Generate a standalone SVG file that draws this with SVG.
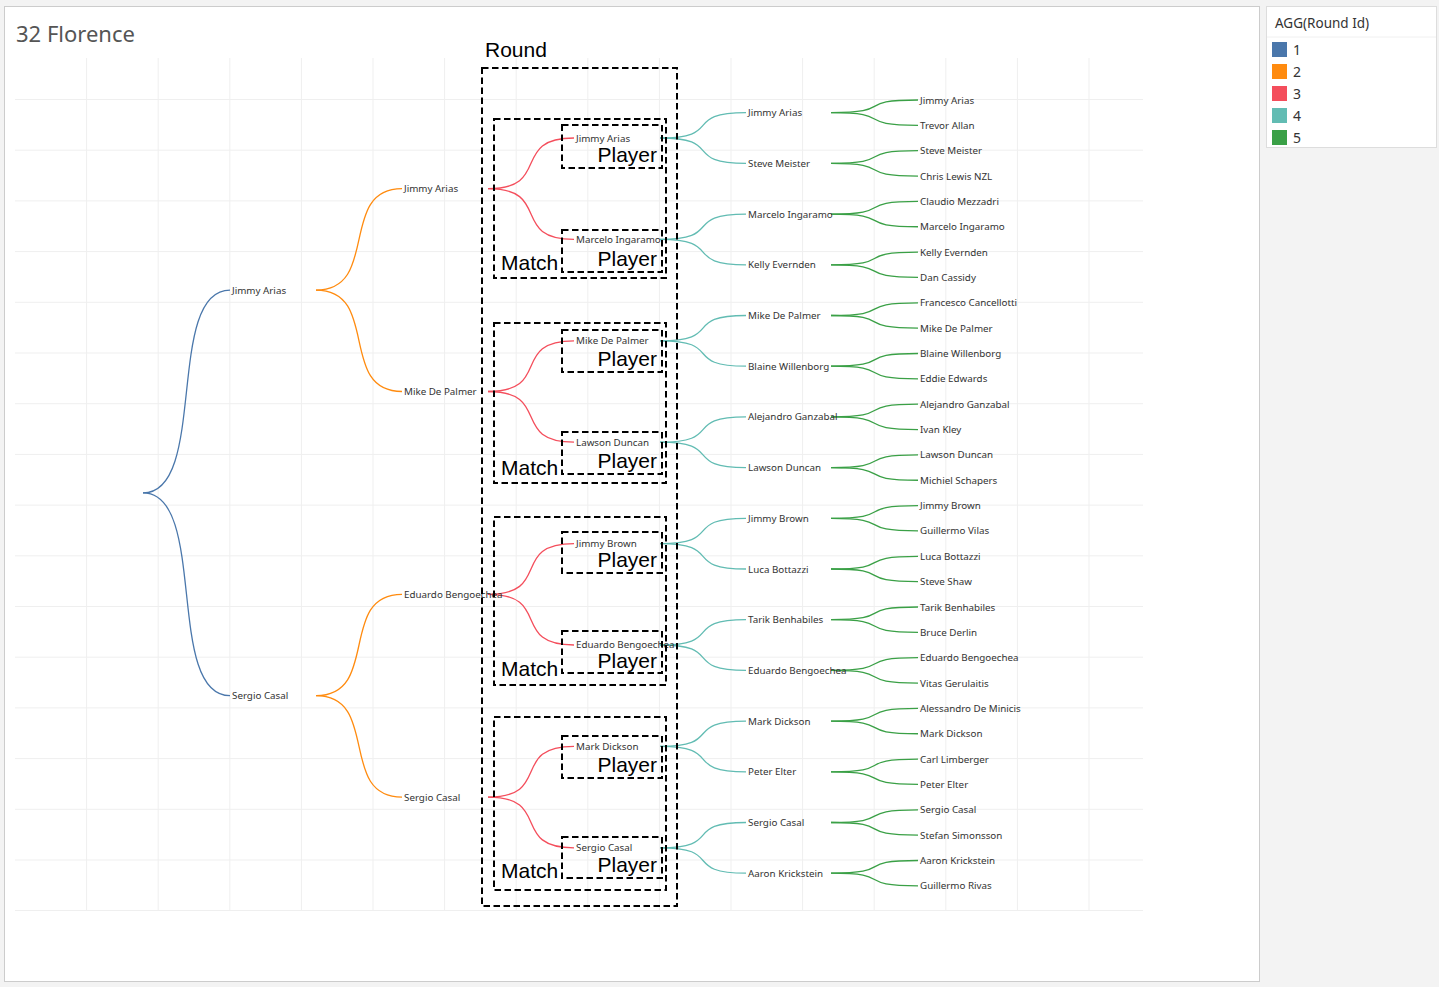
<svg xmlns="http://www.w3.org/2000/svg" width="1439" height="987" viewBox="0 0 1439 987">
<style>
.bg{fill:#f3f3f3}
.panel{fill:#ffffff;stroke:#cccccc;stroke-width:1}
.grid line{stroke:#efefef;stroke-width:1}
.lbl{font-family:"Noto Sans","Liberation Sans",sans-serif;font-size:9.8px;fill:#333333}
.title{font-family:"Noto Sans","Liberation Sans",sans-serif;font-size:22px;fill:#555555}
.big{font-family:"Liberation Sans",Arial,sans-serif;font-size:21px;fill:#000000}
.box{fill:none;stroke:#000000;stroke-width:2;stroke-dasharray:6.5,3.5}
.c1{fill:none;stroke:#4a77ab;stroke-width:1.3}
.c2{fill:none;stroke:#ff8b0f;stroke-width:1.3}
.c3{fill:none;stroke:#f44e5c;stroke-width:1.3}
.c4{fill:none;stroke:#62bcb3;stroke-width:1.3}
.c5{fill:none;stroke:#3aa046;stroke-width:1.3}
.lgh{font-family:"Noto Sans","Liberation Sans",sans-serif;font-size:13.5px;fill:#333333}
.lgn{font-family:"Noto Sans","Liberation Sans",sans-serif;font-size:14px;fill:#333333}
</style>
<rect class="bg" x="0" y="0" width="1439" height="987"/>
<rect class="panel" x="4.5" y="6.5" width="1255" height="975"/>
<text class="title" x="16" y="42">32 Florence</text>
<g class="grid">
<line x1="86.6" y1="58" x2="86.6" y2="910.5"/>
<line x1="158.2" y1="58" x2="158.2" y2="910.5"/>
<line x1="229.8" y1="58" x2="229.8" y2="910.5"/>
<line x1="301.4" y1="58" x2="301.4" y2="910.5"/>
<line x1="373" y1="58" x2="373" y2="910.5"/>
<line x1="444.6" y1="58" x2="444.6" y2="910.5"/>
<line x1="516.2" y1="58" x2="516.2" y2="910.5"/>
<line x1="587.8" y1="58" x2="587.8" y2="910.5"/>
<line x1="659.4" y1="58" x2="659.4" y2="910.5"/>
<line x1="731" y1="58" x2="731" y2="910.5"/>
<line x1="802.6" y1="58" x2="802.6" y2="910.5"/>
<line x1="874.2" y1="58" x2="874.2" y2="910.5"/>
<line x1="945.8" y1="58" x2="945.8" y2="910.5"/>
<line x1="1017.4" y1="58" x2="1017.4" y2="910.5"/>
<line x1="1089" y1="58" x2="1089" y2="910.5"/>
<line x1="15" y1="99.5" x2="1143" y2="99.5"/>
<line x1="15" y1="150.2" x2="1143" y2="150.2"/>
<line x1="15" y1="200.9" x2="1143" y2="200.9"/>
<line x1="15" y1="251.6" x2="1143" y2="251.6"/>
<line x1="15" y1="302.3" x2="1143" y2="302.3"/>
<line x1="15" y1="353" x2="1143" y2="353"/>
<line x1="15" y1="403.7" x2="1143" y2="403.7"/>
<line x1="15" y1="454.4" x2="1143" y2="454.4"/>
<line x1="15" y1="505.1" x2="1143" y2="505.1"/>
<line x1="15" y1="555.8" x2="1143" y2="555.8"/>
<line x1="15" y1="606.5" x2="1143" y2="606.5"/>
<line x1="15" y1="657.2" x2="1143" y2="657.2"/>
<line x1="15" y1="707.9" x2="1143" y2="707.9"/>
<line x1="15" y1="758.6" x2="1143" y2="758.6"/>
<line x1="15" y1="809.3" x2="1143" y2="809.3"/>
<line x1="15" y1="860" x2="1143" y2="860"/>
<line x1="15" y1="910.5" x2="1143" y2="910.5"/>
</g>
<g id="connectors">
<path class="c1" d="M143,492.9 C208.25,492.9 164.75,290.1 230,290.1"/>
<path class="c1" d="M143,492.9 C208.25,492.9 164.75,695.7 230,695.7"/>
<path class="c2" d="M316,290.1 C380.5,290.1 337.5,188.7 402,188.7"/>
<path class="c2" d="M316,290.1 C380.5,290.1 337.5,391.5 402,391.5"/>
<path class="c2" d="M316,695.7 C380.5,695.7 337.5,594.3 402,594.3"/>
<path class="c2" d="M316,695.7 C380.5,695.7 337.5,797.1 402,797.1"/>
<path class="c3" d="M488,188.7 C552.5,188.7 509.5,138 574,138"/>
<path class="c3" d="M488,188.7 C552.5,188.7 509.5,239.4 574,239.4"/>
<path class="c3" d="M488,391.5 C552.5,391.5 509.5,340.8 574,340.8"/>
<path class="c3" d="M488,391.5 C552.5,391.5 509.5,442.2 574,442.2"/>
<path class="c3" d="M488,594.3 C552.5,594.3 509.5,543.6 574,543.6"/>
<path class="c3" d="M488,594.3 C552.5,594.3 509.5,645 574,645"/>
<path class="c3" d="M488,797.1 C552.5,797.1 509.5,746.4 574,746.4"/>
<path class="c3" d="M488,797.1 C552.5,797.1 509.5,847.8 574,847.8"/>
<path class="c4" d="M660,138 C724.5,138 681.5,112.7 746,112.7"/>
<path class="c4" d="M660,138 C724.5,138 681.5,163.4 746,163.4"/>
<path class="c4" d="M660,239.4 C724.5,239.4 681.5,214.1 746,214.1"/>
<path class="c4" d="M660,239.4 C724.5,239.4 681.5,264.8 746,264.8"/>
<path class="c4" d="M660,340.8 C724.5,340.8 681.5,315.5 746,315.5"/>
<path class="c4" d="M660,340.8 C724.5,340.8 681.5,366.2 746,366.2"/>
<path class="c4" d="M660,442.2 C724.5,442.2 681.5,416.9 746,416.9"/>
<path class="c4" d="M660,442.2 C724.5,442.2 681.5,467.6 746,467.6"/>
<path class="c4" d="M660,543.6 C724.5,543.6 681.5,518.3 746,518.3"/>
<path class="c4" d="M660,543.6 C724.5,543.6 681.5,569 746,569"/>
<path class="c4" d="M660,645 C724.5,645 681.5,619.7 746,619.7"/>
<path class="c4" d="M660,645 C724.5,645 681.5,670.4 746,670.4"/>
<path class="c4" d="M660,746.4 C724.5,746.4 681.5,721.1 746,721.1"/>
<path class="c4" d="M660,746.4 C724.5,746.4 681.5,771.8 746,771.8"/>
<path class="c4" d="M660,847.8 C724.5,847.8 681.5,822.5 746,822.5"/>
<path class="c4" d="M660,847.8 C724.5,847.8 681.5,873.2 746,873.2"/>
<path class="c5" d="M831,112.7 C896.25,112.7 852.75,100 918,100"/>
<path class="c5" d="M831,112.7 C896.25,112.7 852.75,125.35 918,125.35"/>
<path class="c5" d="M831,163.4 C896.25,163.4 852.75,150.7 918,150.7"/>
<path class="c5" d="M831,163.4 C896.25,163.4 852.75,176.05 918,176.05"/>
<path class="c5" d="M831,214.1 C896.25,214.1 852.75,201.4 918,201.4"/>
<path class="c5" d="M831,214.1 C896.25,214.1 852.75,226.75 918,226.75"/>
<path class="c5" d="M831,264.8 C896.25,264.8 852.75,252.1 918,252.1"/>
<path class="c5" d="M831,264.8 C896.25,264.8 852.75,277.45 918,277.45"/>
<path class="c5" d="M831,315.5 C896.25,315.5 852.75,302.8 918,302.8"/>
<path class="c5" d="M831,315.5 C896.25,315.5 852.75,328.15 918,328.15"/>
<path class="c5" d="M831,366.2 C896.25,366.2 852.75,353.5 918,353.5"/>
<path class="c5" d="M831,366.2 C896.25,366.2 852.75,378.85 918,378.85"/>
<path class="c5" d="M831,416.9 C896.25,416.9 852.75,404.2 918,404.2"/>
<path class="c5" d="M831,416.9 C896.25,416.9 852.75,429.55 918,429.55"/>
<path class="c5" d="M831,467.6 C896.25,467.6 852.75,454.9 918,454.9"/>
<path class="c5" d="M831,467.6 C896.25,467.6 852.75,480.25 918,480.25"/>
<path class="c5" d="M831,518.3 C896.25,518.3 852.75,505.6 918,505.6"/>
<path class="c5" d="M831,518.3 C896.25,518.3 852.75,530.95 918,530.95"/>
<path class="c5" d="M831,569 C896.25,569 852.75,556.3 918,556.3"/>
<path class="c5" d="M831,569 C896.25,569 852.75,581.65 918,581.65"/>
<path class="c5" d="M831,619.7 C896.25,619.7 852.75,607 918,607"/>
<path class="c5" d="M831,619.7 C896.25,619.7 852.75,632.35 918,632.35"/>
<path class="c5" d="M831,670.4 C896.25,670.4 852.75,657.7 918,657.7"/>
<path class="c5" d="M831,670.4 C896.25,670.4 852.75,683.05 918,683.05"/>
<path class="c5" d="M831,721.1 C896.25,721.1 852.75,708.4 918,708.4"/>
<path class="c5" d="M831,721.1 C896.25,721.1 852.75,733.75 918,733.75"/>
<path class="c5" d="M831,771.8 C896.25,771.8 852.75,759.1 918,759.1"/>
<path class="c5" d="M831,771.8 C896.25,771.8 852.75,784.45 918,784.45"/>
<path class="c5" d="M831,822.5 C896.25,822.5 852.75,809.8 918,809.8"/>
<path class="c5" d="M831,822.5 C896.25,822.5 852.75,835.15 918,835.15"/>
<path class="c5" d="M831,873.2 C896.25,873.2 852.75,860.5 918,860.5"/>
<path class="c5" d="M831,873.2 C896.25,873.2 852.75,885.85 918,885.85"/>
</g>
<g id="r1">
<g id="r1-1"><text class="lbl" x="232" y="293.6">Jimmy Arias</text></g>
<g id="r1-2"><text class="lbl" x="232" y="699.2">Sergio Casal</text></g>
</g>
<g id="r2">
<g id="r2-1"><text class="lbl" x="404" y="192.2">Jimmy Arias</text></g>
<g id="r2-2"><text class="lbl" x="404" y="395">Mike De Palmer</text></g>
<g id="r2-3"><text class="lbl" x="404" y="597.8">Eduardo Bengoechea</text></g>
<g id="r2-4"><text class="lbl" x="404" y="800.6">Sergio Casal</text></g>
</g>
<g id="r3">
<g id="r3-1"><text class="lbl" x="576" y="141.5">Jimmy Arias</text></g>
<g id="r3-2"><text class="lbl" x="576" y="242.9">Marcelo Ingaramo</text></g>
<g id="r3-3"><text class="lbl" x="576" y="344.3">Mike De Palmer</text></g>
<g id="r3-4"><text class="lbl" x="576" y="445.7">Lawson Duncan</text></g>
<g id="r3-5"><text class="lbl" x="576" y="547.1">Jimmy Brown</text></g>
<g id="r3-6"><text class="lbl" x="576" y="648.3">Eduardo Bengoechea</text></g>
<g id="r3-7"><text class="lbl" x="576" y="749.9">Mark Dickson</text></g>
<g id="r3-8"><text class="lbl" x="576" y="851.3">Sergio Casal</text></g>
</g>
<g id="r4">
<g id="r4-1"><text class="lbl" x="748" y="116.2">Jimmy Arias</text></g>
<g id="r4-2"><text class="lbl" x="748" y="166.9">Steve Meister</text></g>
<g id="r4-3"><text class="lbl" x="748" y="217.6">Marcelo Ingaramo</text></g>
<g id="r4-4"><text class="lbl" x="748" y="268.3">Kelly Evernden</text></g>
<g id="r4-5"><text class="lbl" x="748" y="319">Mike De Palmer</text></g>
<g id="r4-6"><text class="lbl" x="748" y="369.7">Blaine Willenborg</text></g>
<g id="r4-7"><text class="lbl" x="748" y="420.4">Alejandro Ganzabal</text></g>
<g id="r4-8"><text class="lbl" x="748" y="471.1">Lawson Duncan</text></g>
<g id="r4-9"><text class="lbl" x="748" y="521.8">Jimmy Brown</text></g>
<g id="r4-10"><text class="lbl" x="748" y="572.5">Luca Bottazzi</text></g>
<g id="r4-11"><text class="lbl" x="748" y="623.2">Tarik Benhabiles</text></g>
<g id="r4-12"><text class="lbl" x="748" y="673.9">Eduardo Bengoechea</text></g>
<g id="r4-13"><text class="lbl" x="748" y="724.6">Mark Dickson</text></g>
<g id="r4-14"><text class="lbl" x="748" y="775.3">Peter Elter</text></g>
<g id="r4-15"><text class="lbl" x="748" y="826">Sergio Casal</text></g>
<g id="r4-16"><text class="lbl" x="748" y="876.7">Aaron Krickstein</text></g>
</g>
<g id="r5">
<g id="r5-1"><text class="lbl" x="920" y="103.5">Jimmy Arias</text></g>
<g id="r5-2"><text class="lbl" x="920" y="128.85">Trevor Allan</text></g>
<g id="r5-3"><text class="lbl" x="920" y="154.2">Steve Meister</text></g>
<g id="r5-4"><text class="lbl" x="920" y="179.55">Chris Lewis NZL</text></g>
<g id="r5-5"><text class="lbl" x="920" y="204.9">Claudio Mezzadri</text></g>
<g id="r5-6"><text class="lbl" x="920" y="230.25">Marcelo Ingaramo</text></g>
<g id="r5-7"><text class="lbl" x="920" y="255.6">Kelly Evernden</text></g>
<g id="r5-8"><text class="lbl" x="920" y="280.95">Dan Cassidy</text></g>
<g id="r5-9"><text class="lbl" x="920" y="306.3">Francesco Cancellotti</text></g>
<g id="r5-10"><text class="lbl" x="920" y="331.65">Mike De Palmer</text></g>
<g id="r5-11"><text class="lbl" x="920" y="357">Blaine Willenborg</text></g>
<g id="r5-12"><text class="lbl" x="920" y="382.35">Eddie Edwards</text></g>
<g id="r5-13"><text class="lbl" x="920" y="407.7">Alejandro Ganzabal</text></g>
<g id="r5-14"><text class="lbl" x="920" y="433.05">Ivan Kley</text></g>
<g id="r5-15"><text class="lbl" x="920" y="458.4">Lawson Duncan</text></g>
<g id="r5-16"><text class="lbl" x="920" y="483.75">Michiel Schapers</text></g>
<g id="r5-17"><text class="lbl" x="920" y="509.1">Jimmy Brown</text></g>
<g id="r5-18"><text class="lbl" x="920" y="534.45">Guillermo Vilas</text></g>
<g id="r5-19"><text class="lbl" x="920" y="559.8">Luca Bottazzi</text></g>
<g id="r5-20"><text class="lbl" x="920" y="585.15">Steve Shaw</text></g>
<g id="r5-21"><text class="lbl" x="920" y="610.5">Tarik Benhabiles</text></g>
<g id="r5-22"><text class="lbl" x="920" y="635.85">Bruce Derlin</text></g>
<g id="r5-23"><text class="lbl" x="920" y="661.2">Eduardo Bengoechea</text></g>
<g id="r5-24"><text class="lbl" x="920" y="686.55">Vitas Gerulaitis</text></g>
<g id="r5-25"><text class="lbl" x="920" y="711.9">Alessandro De Minicis</text></g>
<g id="r5-26"><text class="lbl" x="920" y="737.25">Mark Dickson</text></g>
<g id="r5-27"><text class="lbl" x="920" y="762.6">Carl Limberger</text></g>
<g id="r5-28"><text class="lbl" x="920" y="787.95">Peter Elter</text></g>
<g id="r5-29"><text class="lbl" x="920" y="813.3">Sergio Casal</text></g>
<g id="r5-30"><text class="lbl" x="920" y="838.65">Stefan Simonsson</text></g>
<g id="r5-31"><text class="lbl" x="920" y="864">Aaron Krickstein</text></g>
<g id="r5-32"><text class="lbl" x="920" y="889.35">Guillermo Rivas</text></g>
</g>
<g id="round-box">
<rect class="box" x="482" y="68" width="195" height="838"/>
<text class="big" x="485" y="57">Round</text>
</g>
<g id="match-boxes">
<g id="match-1"><rect class="box" x="494" y="119" width="172" height="159"/><text class="big" x="501" y="270">Match</text></g>
<g id="match-2"><rect class="box" x="494" y="323" width="172" height="160"/><text class="big" x="501" y="475">Match</text></g>
<g id="match-3"><rect class="box" x="494" y="517" width="172" height="168"/><text class="big" x="501" y="676">Match</text></g>
<g id="match-4"><rect class="box" x="494" y="717" width="172" height="173"/><text class="big" x="501" y="878">Match</text></g>
</g>
<g id="player-boxes">
<g id="player-1"><rect class="box" x="562" y="125" width="100" height="43"/><text class="big" x="657" y="162" text-anchor="end">Player</text></g>
<g id="player-2"><rect class="box" x="562" y="230" width="100" height="42"/><text class="big" x="657" y="266" text-anchor="end">Player</text></g>
<g id="player-3"><rect class="box" x="562" y="330" width="100" height="42"/><text class="big" x="657" y="366" text-anchor="end">Player</text></g>
<g id="player-4"><rect class="box" x="562" y="432" width="100" height="42"/><text class="big" x="657" y="468" text-anchor="end">Player</text></g>
<g id="player-5"><rect class="box" x="562" y="532" width="100" height="41"/><text class="big" x="657" y="567" text-anchor="end">Player</text></g>
<g id="player-6"><rect class="box" x="562" y="631" width="100" height="42"/><text class="big" x="657" y="668" text-anchor="end">Player</text></g>
<g id="player-7"><rect class="box" x="562" y="736" width="100" height="42"/><text class="big" x="657" y="772" text-anchor="end">Player</text></g>
<g id="player-8"><rect class="box" x="562" y="837" width="100" height="41"/><text class="big" x="657" y="872" text-anchor="end">Player</text></g>
</g>
<g id="legend">
<rect x="1266.5" y="6.5" width="170" height="141" fill="#ffffff" stroke="#dddddd" stroke-width="1"/>
<line x1="1267" y1="37" x2="1436" y2="37" stroke="#f0f0f0" stroke-width="1"/>
<text class="lgh" x="1275" y="28">AGG(Round Id)</text>
<rect x="1272" y="42" width="15" height="15" fill="#4a77ab"/>
<text class="lgn" x="1293" y="55">1</text>
<rect x="1272" y="64" width="15" height="15" fill="#ff8b0f"/>
<text class="lgn" x="1293" y="77">2</text>
<rect x="1272" y="86" width="15" height="15" fill="#f44e5c"/>
<text class="lgn" x="1293" y="99">3</text>
<rect x="1272" y="108" width="15" height="15" fill="#62bcb3"/>
<text class="lgn" x="1293" y="121">4</text>
<rect x="1272" y="130" width="15" height="15" fill="#3aa046"/>
<text class="lgn" x="1293" y="143">5</text>
</g>
</svg>
